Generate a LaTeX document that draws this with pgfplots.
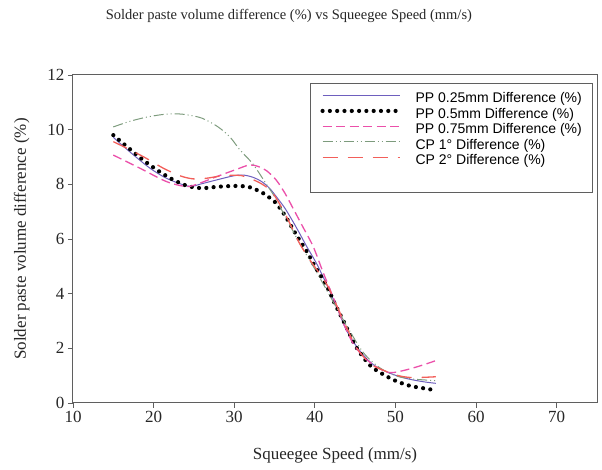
\documentclass[border=0pt]{standalone}
\usepackage{fontspec}
\setmainfont{Liberation Serif}
\newfontfamily\legfont{Liberation Sans}
\usepackage{pgfplots}
\pgfplotsset{compat=1.18}
\definecolor{cpurple}{RGB}{110,95,190}
\definecolor{cpink}{RGB}{235,80,170}
\definecolor{cgreen}{RGB}{125,155,125}
\definecolor{cred}{RGB}{242,95,90}
\definecolor{cframe}{RGB}{95,95,95}

\pgfplotstableread{
x y
15 9.72
17 9.20
19.5 8.60
21.6 8.22
23.7 7.98
24.7 7.92
25.7 8.00
27.8 8.16
29.9 8.31
31.1 8.34
32.3 8.26
33.4 8.10
34.4 7.85
35.4 7.48
36.3 7.12
37.3 6.63
38.1 6.21
39.0 5.72
40.2 5.11
41.4 4.38
42.7 3.52
43.9 2.67
45.2 2.06
46.4 1.63
47.6 1.33
49.3 1.09
51.3 0.90
53.4 0.78
55 0.72
}\ppa

\pgfplotstableread{
x y
15 9.80
16.85 9.34
18.7 8.89
20.6 8.49
22.4 8.17
24.2 7.94
26.0 7.86
27.9 7.91
29.9 7.94
31.6 7.92
32.5 7.83
33.4 7.71
34.3 7.53
35.2 7.31
35.9 7.03
36.5 6.76
37.7 6.15
39.0 5.54
40.0 5.00
41.4 4.32
42.6 3.56
43.9 2.79
45.1 2.06
46.8 1.39
48.4 1.06
50.1 0.80
51.9 0.62
53.9 0.52
55 0.46
}\ppb

\pgfplotstableread{
x y
15 9.07
18.3 8.59
21.6 8.10
24.1 7.92
25.7 8.04
27.8 8.28
30.3 8.55
31.9 8.71
33.0 8.65
34.0 8.50
35.2 8.16
36.3 7.67
37.3 7.12
38.5 6.45
39.8 5.72
41.0 4.80
42.3 3.85
43.5 2.95
44.7 2.20
46.0 1.70
47.6 1.33
49.3 1.11
51.3 1.21
53.4 1.39
55 1.55
}\ppc

\pgfplotstableread{
x y
15 10.10
17 10.30
19 10.45
21 10.55
22.5 10.58
24 10.55
26 10.42
28 10.10
29.5 9.72
30.7 9.26
32.3 8.75
34 8.00
35 7.55
36 7.00
37 6.45
38 5.90
39 5.40
40 4.90
42 3.85
44 2.80
46 1.85
48 1.30
50 1.00
52 0.88
55 0.82
}\cpa

\pgfplotstableread{
x y
15 9.56
17.1 9.26
19.1 8.95
21.2 8.59
23.3 8.31
24.9 8.20
26.5 8.22
28.2 8.30
29.8 8.33
30.9 8.32
31.9 8.22
33.0 8.08
34.0 7.90
34.8 7.67
35.6 7.30
36.5 6.81
37.3 6.33
38.1 5.84
39.4 5.23
41.4 4.38
42.6 3.64
43.9 2.79
45.1 2.06
46.8 1.45
48.4 1.21
50.1 1.02
52 0.93
55 0.96
}\cpb

\begin{document}
\begin{tikzpicture}
\useasboundingbox (-73pt,-67pt) rectangle (529pt,403pt);
\begin{axis}[
  at={(0pt,0pt)}, anchor=south west,
  scale only axis, width=524pt, height=328pt,
  xmin=10, xmax=75, ymin=0, ymax=12,
  xtick={10,20,...,70}, ytick={0,2,...,12},
  xtick pos=bottom, ytick pos=left,
  tick align=outside, major tick length=5pt,
  axis line style={draw=cframe, line width=1pt},
  every tick/.style={cframe, line width=0.8pt},
  /pgf/number format/assume math mode=true,
  ticklabel style={font=\fontsize{17}{20}\selectfont, text=black!85},
  label style={font=\fontsize{17}{20}\selectfont, text=black!85},
  xlabel={Squeegee Speed (mm/s)},
  ylabel={Solder paste volume difference (\%)},
  xlabel style={at={(axis description cs:0.5,-0.159)}, anchor=center},
  ylabel style={at={(axis description cs:-0.098,0.5)}, anchor=center},
  title={Solder paste volume difference (\%) vs Squeegee Speed (mm/s)},
  title style={at={(axis description cs:0.412,1)}, anchor=center, yshift=53pt,
    font=\fontsize{14.5}{17}\selectfont, text=black!85},
  legend cell align=left,
  legend style={at={(axis description cs:0.9905,0.9756)}, anchor=north east,
    draw=none, inner xsep=10pt, inner ysep=9pt, name=leg,
    font=\legfont\fontsize{14}{16}\selectfont,
    nodes={inner sep=0pt, text height=10.5pt, text depth=3pt},
    row sep=2pt},
  legend image code/.code={\draw[#1] (0pt,3.5pt) -- (77pt,3.5pt);
    \path[draw=none,fill=none] (0pt,0pt) rectangle (93pt,0pt);},
]
\addplot[color=cpurple, line width=1pt, smooth, forget plot] table {\ppa};
\addplot[color=black, line width=4.2pt, line cap=round, dash pattern=on 0pt off 7.3pt, smooth, forget plot] table {\ppb};
\addplot[color=cpink, line width=1.3pt, dash pattern=on 9pt off 4.5pt, smooth, forget plot] table {\ppc};
\addplot[color=cgreen, line width=1pt, dash pattern=on 10pt off 3pt on 1pt off 3pt on 1pt off 3pt, smooth, forget plot] table {\cpa};
\addplot[color=cred, line width=1.3pt, dash pattern=on 15pt off 10pt, smooth, forget plot] table {\cpb};
\addlegendimage{draw=cpurple, line width=1.1pt}
\addlegendentry{PP 0.25mm Difference (\%)}
\addlegendimage{draw=black, line width=4.2pt, line cap=round, dash pattern=on 0pt off 7.3pt}
\addlegendentry{PP 0.5mm Difference (\%)}
\addlegendimage{draw=cpink, line width=1.3pt, dash pattern=on 9pt off 4.5pt}
\addlegendentry{PP 0.75mm Difference (\%)}
\addlegendimage{draw=cgreen, line width=1.1pt, dash pattern=on 10pt off 3pt on 1pt off 3pt on 1pt off 3pt}
\addlegendentry{CP 1° Difference (\%)}
\addlegendimage{draw=cred, line width=1.4pt, dash pattern=on 15pt off 10pt}
\addlegendentry{CP 2° Difference (\%)}
\addlegendimage{empty legend}
\addlegendentry{}
\end{axis}
\draw[cframe, line width=0.8pt] (leg.south west) rectangle (leg.north east);
\end{tikzpicture}
\end{document}
